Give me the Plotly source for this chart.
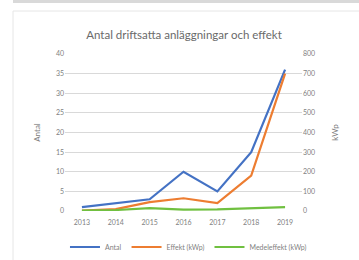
import plotly.graph_objects as go

years = ["2013", "2014", "2015", "2016", "2017", "2018", "2019"]
antal = [1, 2, 3, 10, 5, 15, 36]
effekt = [2, 10, 45, 65, 40, 180, 700]
medeleffekt = [2, 5, 15, 6.5, 8, 12, 19.4]

FONT = "Lato"
GRAY = "#7f7f7f"

fig = go.Figure()
fig.add_trace(go.Scatter(x=years, y=antal, name="Antal", mode="lines",
                         line=dict(color="#4472c4", width=2.2)))
fig.add_trace(go.Scatter(x=years, y=effekt, name="Effekt (kWp)", mode="lines",
                         line=dict(color="#ed7d31", width=2.2), yaxis="y2"))
fig.add_trace(go.Scatter(x=years, y=medeleffekt, name="Medeleffekt (kWp)", mode="lines",
                         line=dict(color="#70c040", width=2.2), yaxis="y2"))

W, H = 359, 260
L, R, T, B = 65, 57, 54, 49
pw, ph = W - L - R, H - T - B
def px(x): return (x - L) / pw
def py(y): return (H - B - y) / ph

fig.update_layout(
    width=W, height=H,
    margin=dict(l=L, r=R, t=T, b=B, autoexpand=False),
    paper_bgcolor="white", plot_bgcolor="white",
    font=dict(family=FONT, color=GRAY, size=7),
    title=dict(text="Antal driftsatta anläggningar och effekt", x=px(184), xref="paper",
               xanchor="center", y=1 - 35 / H, yanchor="middle",
               font=dict(family=FONT, size=11.5, color="#6a6a6a")),
    showlegend=True,
    legend=dict(orientation="h", x=-0.0001, xanchor="left", y=py(247), yanchor="middle",
                font=dict(size=7, color=GRAY), itemwidth=30, tracegroupgap=0),
    xaxis=dict(type="category", range=[-0.5, 6.5], showgrid=False, zeroline=False,
               showline=False, ticks="", automargin=False, ticklabelstandoff=6,
               tickfont=dict(size=7, color=GRAY)),
    yaxis=dict(range=[0, 40], dtick=5, showgrid=True, gridcolor="#d9d9d9", gridwidth=1,
               zeroline=False, showline=False, ticks="", automargin=False,
               tickfont=dict(size=7, color=GRAY),
               title=dict(text="Antal", font=dict(size=8, color=GRAY), standoff=14)),
    yaxis2=dict(range=[0, 800], dtick=100, overlaying="y", side="right", showgrid=False,
                zeroline=False, showline=False, ticks="", automargin=False,
                tickfont=dict(size=7, color=GRAY),
                title=dict(text="kWp", font=dict(size=8, color=GRAY), standoff=18)),
    shapes=[
        dict(type="rect", xref="paper", yref="paper", x0=px(13), x1=px(W + 5),
             y0=py(3), y1=py(-5), fillcolor="#d9d9d9", line=dict(width=0), layer="below"),
        dict(type="line", xref="paper", yref="paper", x0=px(13), x1=px(W + 5),
             y0=py(11), y1=py(11), line=dict(color="#e6e6e6", width=1)),
        dict(type="line", xref="paper", yref="paper", x0=px(13), x1=px(13),
             y0=py(11), y1=py(H + 5), line=dict(color="#e6e6e6", width=1)),
    ],
)

fig.write_html("out.html", config={"displayModeBar": False},
               post_script="document.body.style.margin='0';document.body.style.overflow='hidden';")
